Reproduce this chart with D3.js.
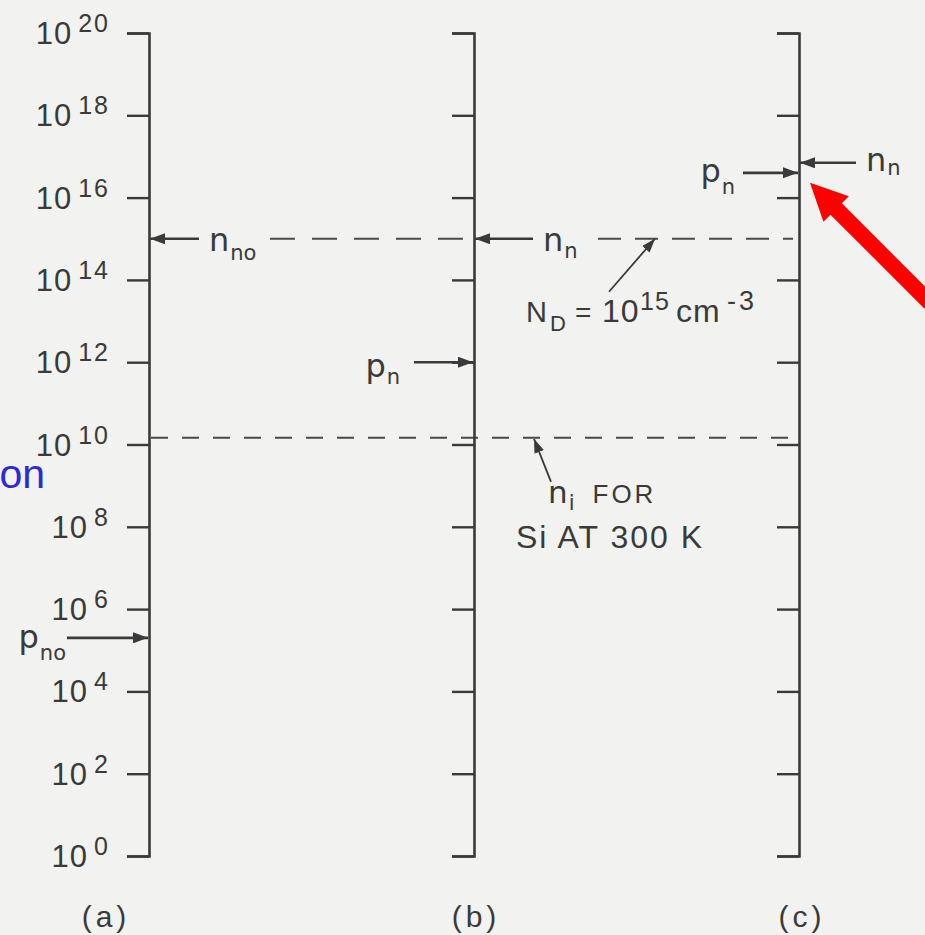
<!DOCTYPE html>
<html>
<head>
<meta charset="utf-8">
<script src="https://cdn.jsdelivr.net/npm/d3@7"></script>
<style>
  html, body { margin: 0; padding: 0; background: #f2f2f0; overflow: hidden; }
  svg { display: block; }
</style>
</head>
<body>
<svg id="chart" width="925" height="935"></svg>
<script>
// ---- data: carrier concentrations (cm^-3) in n-type Si, N_D = 1e15 ----
const panels = ["(a)", "(b)", "(c)"];
const tickExponents = [0, 2, 4, 6, 8, 10, 12, 14, 16, 18, 20];
const tickLabels = ["0", "2", "4", "6", "8", "10", "12", "14", "16", "18", "20"];
const electronValues = [1e15, 1e15, 7e16];          // n_no, n_n (low injection), n_n (high injection)
const electronNames = [["n", "no"], ["n", "n"], ["n", "n"]];
const holeValues = [2e5, 1e12, 4e16];               // p_no, p_n, p_n
const holeNames = [["p", "no"], ["p", "n"], ["p", "n"]];
const donorDensity = 1e15;
const intrinsicDensity = 1.45e10;

// ---- layout ----
const W = 925, H = 935;
const ink = "#3a3a3a";
const sans = "'Liberation Sans', Arial, sans-serif";
const symFont = "'DejaVu Sans', Verdana, sans-serif";
const svg = d3.select("#chart");
svg.append("rect").attr("width", W).attr("height", H).attr("fill", "#f2f2f0");

const y = d3.scaleLog().domain([1, 1e20]).range([856, 33]);
const x = d3.scalePoint().domain(panels).range([149, 799]);

// arrowhead markers
const defs = svg.append("defs");
function marker(id, len, wid, color) {
  defs.append("marker")
    .attr("id", id)
    .attr("markerUnits", "userSpaceOnUse")
    .attr("viewBox", `0 0 ${len} ${wid}`)
    .attr("refX", len).attr("refY", wid / 2)
    .attr("markerWidth", len).attr("markerHeight", wid)
    .attr("orient", "auto")
    .append("path")
    .attr("d", `M0,0L${len},${wid / 2}L0,${wid}Z`)
    .attr("fill", color);
}
marker("head", 15, 11, ink);
marker("headSmall", 14, 10, ink);

// dashed reference lines: donor level (broken by labels) and n_i
const dashed = svg.append("g").attr("stroke", "#4a4a4a").attr("fill", "none");
dashed.append("line")
  .attr("x1", x("(a)") + 121).attr("x2", x("(b)") - 6)
  .attr("y1", y(donorDensity)).attr("y2", y(donorDensity))
  .attr("stroke-width", 2.2).attr("stroke-dasharray", "25,17");
dashed.append("line")
  .attr("x1", x("(b)") + 124).attr("x2", x("(c)") - 6)
  .attr("y1", y(donorDensity)).attr("y2", y(donorDensity))
  .attr("stroke-width", 2.2).attr("stroke-dasharray", "23,14");
dashed.append("line")
  .attr("x1", x("(a)") + 2).attr("x2", x("(c)"))
  .attr("y1", y(intrinsicDensity)).attr("y2", y(intrinsicDensity))
  .attr("stroke-width", 2).attr("stroke-dasharray", "17,14");

// three vertical log axes
panels.forEach(p => {
  const g = svg.append("g").attr("transform", `translate(${x(p)},0)`);
  g.call(d3.axisLeft(y)
    .tickValues(tickExponents.map(e => Math.pow(10, e)))
    .tickSize(22).tickSizeOuter(22)
    .tickFormat(""));
  g.select(".domain").attr("stroke", ink).attr("stroke-width", 2.6);
  g.selectAll(".tick line").attr("stroke", ink).attr("stroke-width", 2.4);
});

// power-of-ten labels on the first axis
const lab = svg.append("g")
  .attr("font-family", sans)
  .attr("fill", ink)
  .selectAll("text").data(tickExponents).join("text")
  .attr("text-anchor", "end")
  .attr("x", x("(a)") - 39)
  .attr("y", d => y(Math.pow(10, d)) + 11);
lab.append("tspan").attr("font-size", 31).attr("letter-spacing", 1).text("10");
lab.append("tspan").attr("font-size", 25).attr("letter-spacing", 2)
  .attr("dx", 6).attr("dy", -12)
  .text((d, i) => tickLabels[i]);

// panel captions
const captionDx = [-45, 0, 1];
svg.append("g")
  .attr("font-family", sans)
  .attr("font-size", 30).attr("fill", ink).attr("text-anchor", "middle")
  .selectAll("text").data(panels).join("text")
  .attr("x", (d, i) => x(d) + captionDx[i] + 2)
  .attr("y", 927)
  .attr("letter-spacing", 4)
  .text(d => d);

// carrier arrows and symbols
const eLen = [50, 59, 57], eGap = [10, 10, 10], eBase = [12, 12, 8], eSub = [9, 7, 4];
const hLen = [82, 60, 56], hGap = [1, 14, 8], hBase = [10, 15, 9], hSub = [12, 7, 12];

panels.forEach((p, i) => {
  const ax = x(p);
  // electrons: arrow from the right
  const ye = y(electronValues[i]);
  svg.append("line")
    .attr("x1", ax + eLen[i]).attr("x2", ax + 1)
    .attr("y1", ye).attr("y2", ye)
    .attr("stroke", ink).attr("stroke-width", 2.6)
    .attr("marker-end", "url(#head)");
  const te = svg.append("text").attr("font-family", symFont).attr("fill", ink)
    .attr("x", ax + eLen[i] + eGap[i]).attr("y", ye + eBase[i]);
  te.append("tspan").attr("font-size", 32).text(electronNames[i][0]);
  te.append("tspan").attr("font-size", 21).attr("dx", 1).attr("dy", eSub[i]).text(electronNames[i][1]);

  // holes: arrow from the left
  const yh = y(holeValues[i]);
  svg.append("line")
    .attr("x1", ax - hLen[i]).attr("x2", ax - 1)
    .attr("y1", yh).attr("y2", yh)
    .attr("stroke", ink).attr("stroke-width", 2.6)
    .attr("marker-end", "url(#head)");
  const th = svg.append("text").attr("font-family", symFont).attr("fill", ink)
    .attr("text-anchor", "end")
    .attr("x", ax - hLen[i] - hGap[i]).attr("y", yh + hBase[i]);
  th.append("tspan").attr("font-size", 32).text(holeNames[i][0]);
  th.append("tspan").attr("font-size", 21).attr("dx", 1).attr("dy", hSub[i]).text(holeNames[i][1]);
});

// N_D annotation
const ndTipX = x("(b)") + 181, ndTipY = y(donorDensity);
svg.append("line")
  .attr("x1", ndTipX - 46).attr("y1", ndTipY + 53)
  .attr("x2", ndTipX).attr("y2", ndTipY)
  .attr("stroke", ink).attr("stroke-width", 1.8)
  .attr("marker-end", "url(#headSmall)");
const ndX = ndTipX - 129, ndY = ndTipY + 83;
const nd = svg.append("text").attr("font-family", sans).attr("fill", ink);
[
  { t: "N", dx: 0, dy: 0, s: 29 },
  { t: "D", dx: 24, dy: 9, s: 22 },
  { t: "=", dx: 49, dy: 0, s: 28 },
  { t: "10", dx: 76, dy: 0, s: 32, ls: 1 },
  { t: "15", dx: 114, dy: -12, s: 25, ls: 1 },
  { t: "cm", dx: 150, dy: 0, s: 32, ls: 1 },
  { t: "-3", dx: 201, dy: -12, s: 27, ls: 3 }
].forEach(d => {
  nd.append("tspan").attr("x", ndX + d.dx).attr("y", ndY + d.dy)
    .attr("font-size", d.s).attr("letter-spacing", d.ls || 0).text(d.t);
});

// n_i annotation
const niTipX = x("(b)") + 60, niTipY = y(intrinsicDensity) + 1;
svg.append("line")
  .attr("x1", niTipX + 17).attr("y1", niTipY + 43)
  .attr("x2", niTipX).attr("y2", niTipY)
  .attr("stroke", ink).attr("stroke-width", 1.8)
  .attr("marker-end", "url(#headSmall)");
const ni = svg.append("text").attr("fill", ink)
  .attr("x", niTipX + 14).attr("y", niTipY + 64);
ni.append("tspan").attr("font-family", symFont).attr("font-size", 31).text("n");
ni.append("tspan").attr("font-family", symFont).attr("font-size", 21).attr("dx", 1).attr("dy", 7).text("i");
ni.append("tspan").attr("font-family", sans).attr("font-size", 26).attr("letter-spacing", 3)
  .attr("dx", 18).attr("dy", -7).text("FOR");
svg.append("text").attr("font-family", sans).attr("font-size", 32).attr("fill", ink)
  .attr("letter-spacing", 2)
  .attr("x", niTipX - 18).attr("y", niTipY + 109)
  .text("Si AT 300 K");

// slide annotations: cut-off blue word and red pointer
svg.append("text").attr("font-family", sans).attr("font-size", 41)
  .attr("fill", "#2b2bd6").attr("text-anchor", "end")
  .attr("x", 45).attr("y", 488).text("on");

const tip = [x("(c)") + 11, y(electronValues[2]) + 20];
const ang = Math.atan2(1, 1);            // points up-left at 45 degrees
const ux = Math.cos(ang), uy = Math.sin(ang);
const headLen = 37, headHalf = 18, shaftHalf = 8, shaftLen = 170;
const bx = tip[0] + ux * headLen, by = tip[1] + uy * headLen;
const ex = tip[0] + ux * shaftLen, ey = tip[1] + uy * shaftLen;
const nx = -uy, ny = ux;
svg.append("path")
  .attr("fill", "#ff0000")
  .attr("d", d3.line()([
    tip,
    [bx + nx * headHalf, by + ny * headHalf],
    [bx + nx * shaftHalf, by + ny * shaftHalf],
    [ex + nx * shaftHalf, ey + ny * shaftHalf],
    [ex - nx * shaftHalf, ey - ny * shaftHalf],
    [bx - nx * shaftHalf, by - ny * shaftHalf],
    [bx - nx * headHalf, by - ny * headHalf]
  ]) + "Z");
</script>
</body>
</html>
